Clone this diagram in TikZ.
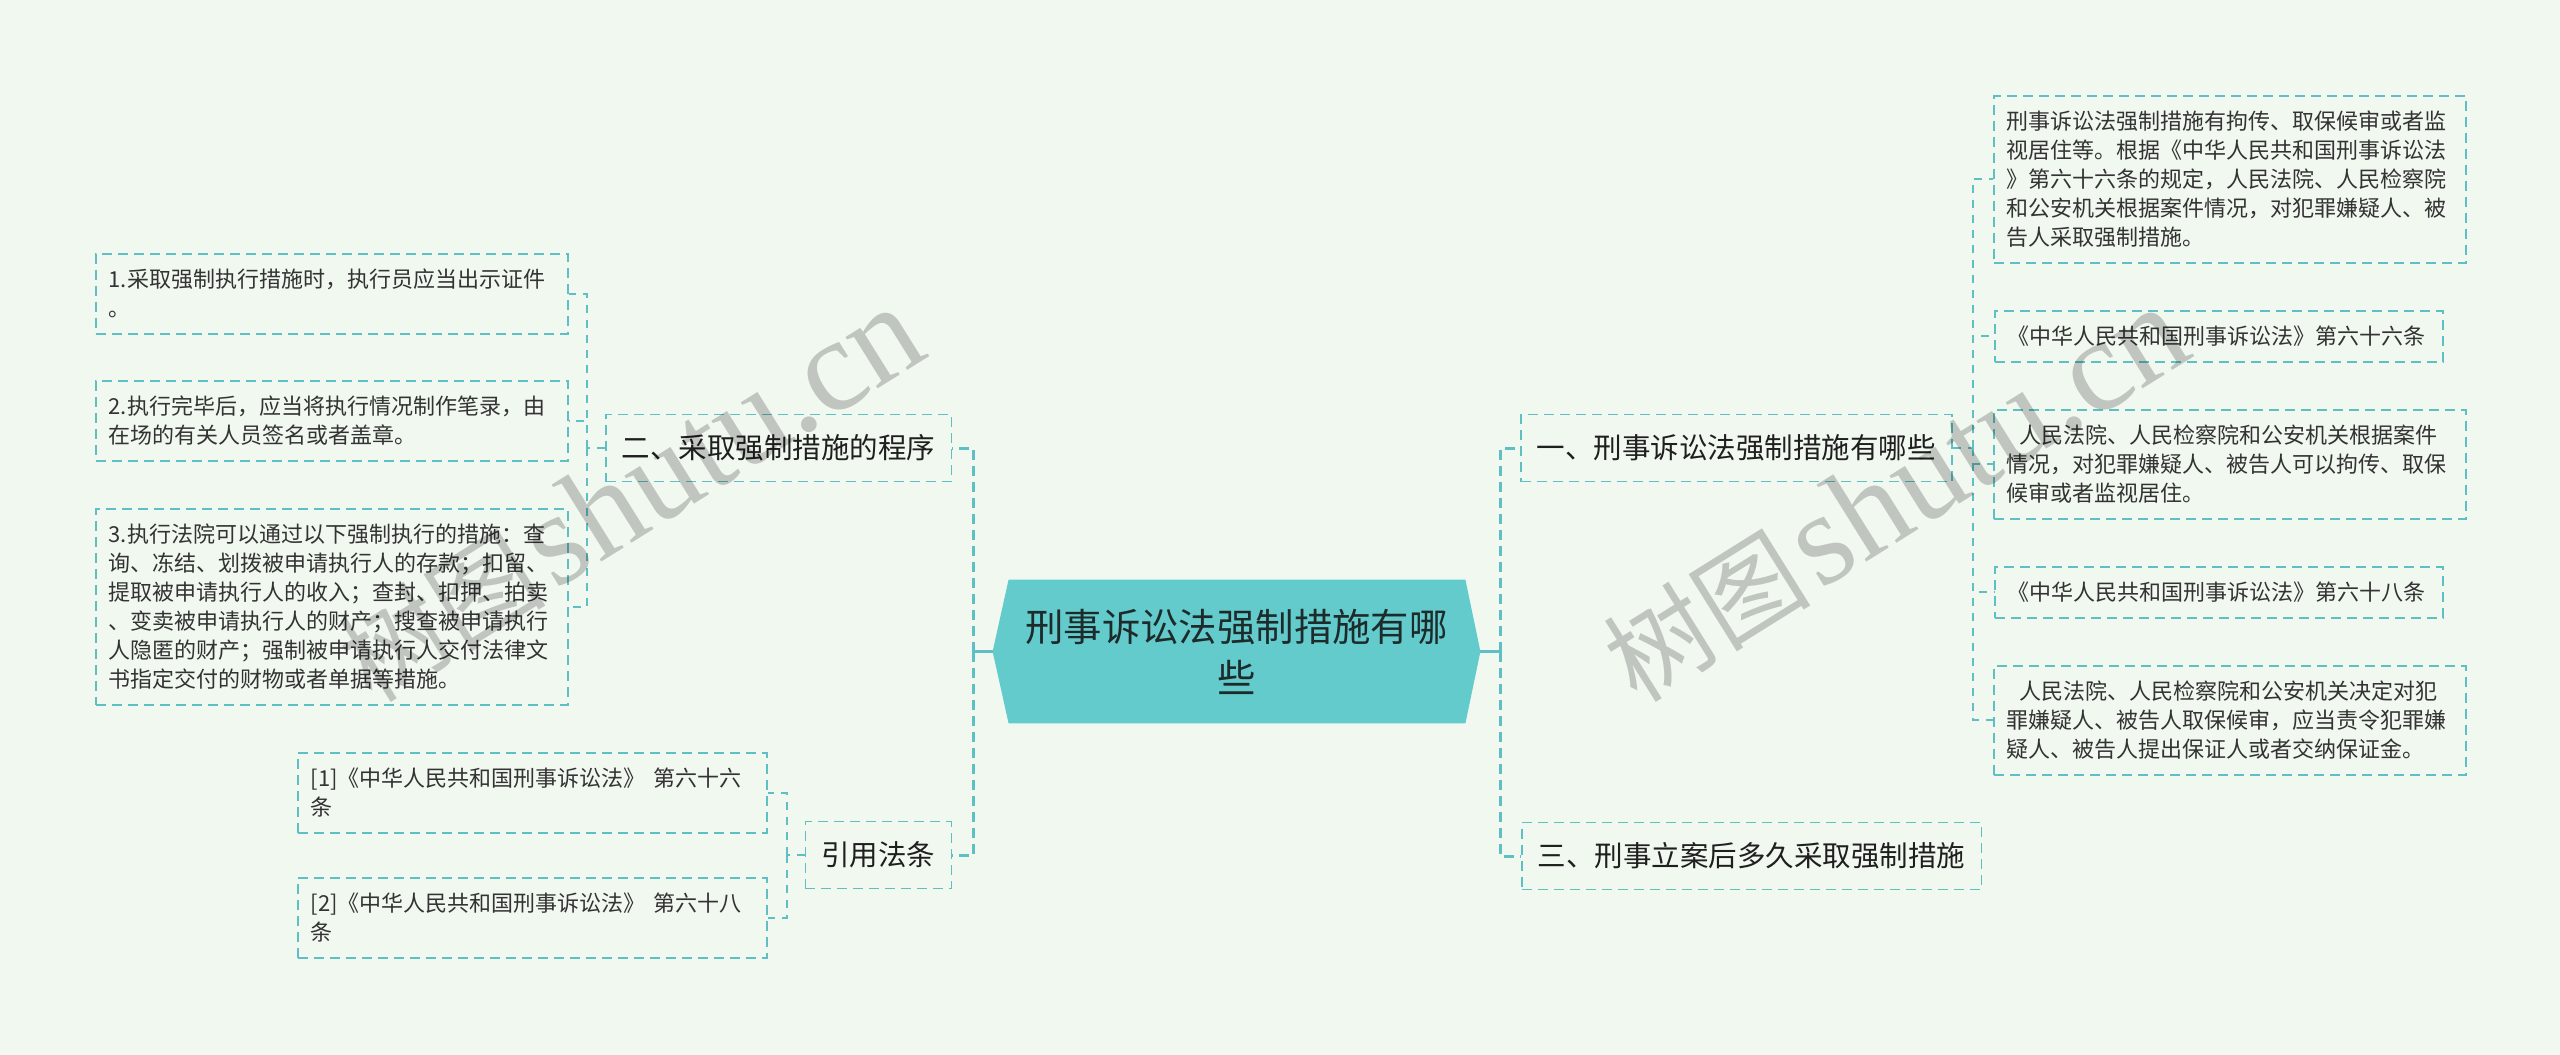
\documentclass[tikz,border=0pt]{standalone}
\usepackage{fontspec}
\setmainfont{Noto Sans CJK SC}
\newfontfamily\wmserif{Liberation Serif}
\usetikzlibrary{calc}
\definecolor{bg}{HTML}{F0F8EF}
\definecolor{ln}{HTML}{5FBFC4}
\definecolor{cfill}{HTML}{63CBCC}
\definecolor{tx}{HTML}{333333}
\definecolor{ctx}{HTML}{1E2B2B}
\begin{document}
\begin{tikzpicture}[x=0.5pt,y=-0.5pt,
  leaf/.style={draw=ln, line width=0.75pt, dash pattern=on 5pt off 3pt, text=tx,
    align=left, anchor=north west, inner xsep=6.5pt, inner ysep=0pt,
    font=\fontsize{11pt}{14.5pt}\selectfont},
  topic/.style={draw=ln, line width=0.75pt, dash pattern=on 5pt off 3pt, text=black!88,
    inner xsep=8pt, inner ysep=0pt, minimum height=33.5pt,
    font=\fontsize{14.25pt}{17pt}\selectfont},
  thicklink/.style={draw=ln, line width=1.5pt, dash pattern=on 5pt off 3pt},
  thinlink/.style={draw=ln, line width=0.9pt, dash pattern=on 4pt off 3.5pt},
  wm/.style={text=black, opacity=0.2, rotate=32, anchor=base west, inner sep=0pt}
]
\useasboundingbox (0,0) rectangle (2560,1055);
\fill[bg] (0,0) rectangle (2560,1055);

% central node
\node[minimum width=243.5pt, minimum height=71.5pt, inner sep=0pt] (c) at (1236.5,651.5) {};
\fill[cfill] (c.west) -- ([xshift=8pt]c.north west) -- ([xshift=-7.5pt]c.north east)
  -- (c.east) -- ([xshift=-7.5pt]c.south east) -- ([xshift=8pt]c.south west) -- cycle;
\node[align=center, text=ctx, inner sep=0pt, font=\fontsize{19.2pt}{25.5pt}\selectfont] (ct) at (c.center) {刑事诉讼法强制措施有哪\\些};

% topics
\node[topic, anchor=east] (n2) at (952,448) {二、采取强制措施的程序};
\node[topic, anchor=east] (ncite) at (952,855) {引用法条};
\node[topic, anchor=west] (n1) at (1520,448) {一、刑事诉讼法强制措施有哪些};
\node[topic, anchor=west] (n3) at (1521,856) {三、刑事立案后多久采取强制措施};

% left leaves
\node[leaf, text width=223pt, minimum height=40pt] (L1) at (95,253) {1.采取强制执行措施时，执行员应当出示证件\\。};
\node[leaf, text width=223pt, minimum height=40pt] (L2) at (95,380) {2.执行完毕后，应当将执行情况制作笔录，由\\在场的有关人员签名或者盖章。};
\node[leaf, text width=223pt, minimum height=98pt] (L3) at (95,508) {3.执行法院可以通过以下强制执行的措施：查\\询、冻结、划拨被申请执行人的存款；扣留、\\提取被申请执行人的收入；查封、扣押、拍卖\\、变卖被申请执行人的财产；搜查被申请执行\\人隐匿的财产；强制被申请执行人交付法律文\\书指定交付的财物或者单据等措施。};
\node[leaf, text width=221.5pt, minimum height=40pt] (C1) at (297,752) {[1]《中华人民共和国刑事诉讼法》~第六十六\\条};
\node[leaf, text width=221.5pt, minimum height=40pt] (C2) at (297,877) {[2]《中华人民共和国刑事诉讼法》~第六十八\\条};

% right leaves
\node[leaf, text width=223pt, minimum height=83.5pt] (R1) at (1993,95) {刑事诉讼法强制措施有拘传、取保候审或者监\\视居住等。根据《中华人民共和国刑事诉讼法\\》第六十六条的规定，人民法院、人民检察院\\和公安机关根据案件情况，对犯罪嫌疑人、被\\告人采取强制措施。};
\node[leaf, text width=211pt, minimum height=25.5pt] (R2) at (1994,310) {《中华人民共和国刑事诉讼法》第六十六条};
\node[leaf, text width=223pt, minimum height=54.5pt] (R3) at (1993,409) {\hspace*{6.5pt}人民法院、人民检察院和公安机关根据案件\\情况，对犯罪嫌疑人、被告人可以拘传、取保\\候审或者监视居住。};
\node[leaf, text width=211pt, minimum height=25.5pt] (R4) at (1994,566) {《中华人民共和国刑事诉讼法》第六十八条};
\node[leaf, text width=223pt, minimum height=54.5pt] (R5) at (1993,665) {\hspace*{6.5pt}人民法院、人民检察院和公安机关决定对犯\\罪嫌疑人、被告人取保候审，应当责令犯罪嫌\\疑人、被告人提出保证人或者交纳保证金。};

% level-1 connectors
\coordinate (jl) at (973,651.5);
\coordinate (jr) at (1500,651.5);
\draw[draw=ln, line width=1.5pt] (c.west) -- (jl);
\draw[draw=ln, line width=1.5pt] (c.east) -- (jr);
\draw[thicklink] (jl) |- (n2.east);
\draw[thicklink] (jl) |- (ncite.east);
\draw[thicklink] (jr) |- (n1.west);
\draw[thicklink] (jr) |- (n3.west);

% level-2 connectors
\coordinate (j2) at (587,448);
\draw[thinlink] (n2.west) -- (j2);
\draw[thinlink] (j2) |- (L1.east);
\draw[thinlink] (j2) |- (L2.east);
\draw[thinlink] (j2) |- (L3.east);
\coordinate (jc) at (787,855);
\draw[thinlink] (ncite.west) -- (jc);
\draw[thinlink] (jc) |- (C1.east);
\draw[thinlink] (jc) |- (C2.east);
\coordinate (j1) at (1973,448);
\draw[thinlink] (n1.east) -- (j1);
\draw[thinlink] (j1) |- (R1.west);
\draw[thinlink] (j1) |- (R2.west);
\draw[thinlink] (j1) |- (R3.west);
\draw[thinlink] (j1) |- (R4.west);
\draw[thinlink] (j1) |- (R5.west);

% watermarks
\node[wm] (wmL) at (372,705) {\fontsize{52pt}{52pt}\selectfont 树图\hspace{4pt}\wmserif\fontsize{66pt}{66pt}\selectfont shutu.cn};
\node[wm] (wmR) at (1637,705) {\fontsize{52pt}{52pt}\selectfont 树图\hspace{4pt}\wmserif\fontsize{66pt}{66pt}\selectfont shutu.cn};
\end{tikzpicture}
\end{document}
